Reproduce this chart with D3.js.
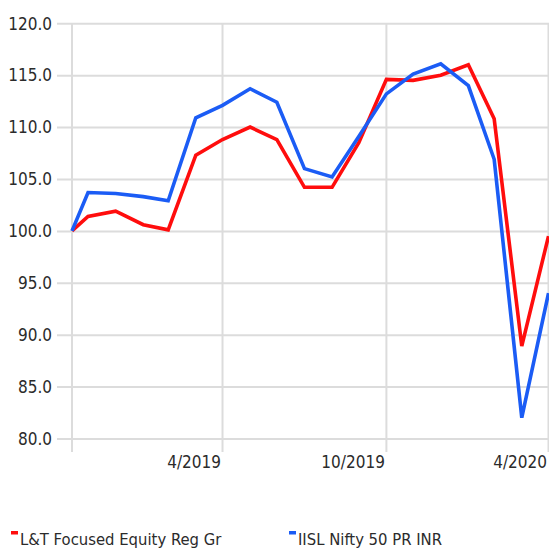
<!DOCTYPE html>
<html>
<head>
<meta charset="utf-8">
<script src="https://cdn.jsdelivr.net/npm/d3@7"></script>
<style>
  html, body { margin: 0; padding: 0; background: #fff; overflow: hidden; }
  svg { display: block; }
  text { font-family: "Liberation Sans Narrow", "DejaVu Sans Condensed", "Roboto Condensed", sans-serif; fill: #2b2b2b; }
</style>
</head>
<body>
<script>
// ---- data ----
const dates = ["2018-11-12","2018-11-30","2018-12-31","2019-01-31","2019-02-28","2019-03-31","2019-04-30",
  "2019-05-31","2019-06-30","2019-07-31","2019-08-31","2019-09-30","2019-10-31","2019-11-30","2019-12-31",
  "2020-01-31","2020-02-29","2020-03-31","2020-04-30"];
const fundValues = [100.0, 101.4, 101.9, 100.6, 100.1, 107.3, 108.8, 110.0, 108.8, 104.2, 104.2, 108.5,
  114.6, 114.5, 115.0, 116.0, 110.8, 88.9, 99.5];
const indexValues = [100.0, 103.7, 103.6, 103.3, 102.9, 110.9, 112.1, 113.7, 112.4, 106.0, 105.2, 109.1,
  113.2, 115.1, 116.1, 114.0, 106.9, 82.0, 94.0];
const seriesNames = ["L&T Focused Equity Reg Gr", "IISL Nifty 50 PR INR"];
const xTickDates = ["2019-04-30", "2019-10-31", "2020-04-30"];
const yTicks = [80, 85, 90, 95, 100, 105, 110, 115, 120];

const W = 549, H = 550;
const mLeft = 72, mRight = 548.5, mTop = 23.3, mBottom = 438.5;
const colors = ["#ff0d0d", "#1b5cf5"];

const parse = d3.utcParse("%Y-%m-%d");
const dts = dates.map(parse);

const x = d3.scaleUtc().domain([dts[0], dts[dts.length - 1]]).range([mLeft, mRight]);
const y = d3.scaleLinear().domain([80, 120]).range([mBottom, mTop]);

const svg = d3.select("body").append("svg").attr("width", W).attr("height", H);

// horizontal grid + y labels
const yAxis = d3.axisLeft(y).tickValues(yTicks).tickSize(-(W - 57)).tickFormat(d3.format(".1f")).tickPadding(5);
const gy = svg.append("g").attr("transform", `translate(57,0)`).call(yAxis);
gy.select(".domain").remove();
gy.selectAll(".tick line").attr("stroke", "#dcdcdc").attr("stroke-width", 2);
gy.selectAll(".tick text").attr("font-size", 17).attr("x", -5).attr("dy", "0.34em");

// vertical grid lines (left axis + ticks)
const vx = [dts[0]].concat(xTickDates.map(parse));
svg.append("g").selectAll("line").data(vx).join("line")
  .attr("x1", d => x(d)).attr("x2", d => x(d))
  .attr("y1", mTop).attr("y2", 452)
  .attr("stroke", "#dcdcdc").attr("stroke-width", 2);

// x labels
const xAxis = d3.axisBottom(x).tickValues(xTickDates.map(parse)).tickFormat(d3.utcFormat("%-m/%Y")).tickSize(0);
const gx = svg.append("g").attr("transform", `translate(0,${mBottom})`).call(xAxis);
gx.select(".domain").remove();
gx.selectAll(".tick text").attr("font-size", 17).attr("text-anchor", "end").attr("x", -2).attr("y", 29).attr("dy", 0);

// lines
const series = [fundValues, indexValues];
const line = d3.line().x((d, i) => x(dts[i])).y(d => y(d));
svg.append("g").selectAll("path").data(series).join("path")
  .attr("d", d => line(d))
  .attr("fill", "none")
  .attr("stroke", (d, i) => colors[i])
  .attr("stroke-width", 3.6)
  .attr("stroke-linejoin", "miter");

// legend
const legX = [11, 289];
const lg = svg.append("g").selectAll("g").data(seriesNames).join("g")
  .attr("transform", (d, i) => `translate(${legX[i]},0)`);
lg.append("rect").attr("x", 0).attr("y", 531).attr("width", 7).attr("height", 3.5).attr("fill", (d, i) => colors[i]);
lg.append("text").attr("x", 9).attr("y", 545).attr("font-size", 16.5).text(d => d);
</script>
</body>
</html>
